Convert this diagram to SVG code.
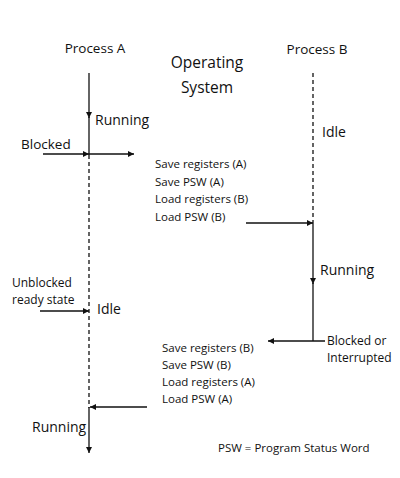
<svg xmlns="http://www.w3.org/2000/svg" width="400" height="478" viewBox="0 0 400 478">
<defs>
<marker id="ah" viewBox="0 0 10 10" refX="10" refY="5" markerWidth="7" markerHeight="6" markerUnits="userSpaceOnUse" orient="auto"><path d="M0,0 L10,5 L0,10 Z" fill="#111"/></marker>
<style>
text{font-family:"Open Sans","Liberation Sans",sans-serif;fill:#111}
.t{font-size:13.5px}
.r{font-size:14px}
.m{font-size:12px}
.s{font-size:11.5px}
.os{font-size:15.5px}
.ln{stroke:#111;stroke-width:1.3;fill:none}
.d{stroke:#111;stroke-width:1.3;fill:none;stroke-dasharray:4 3}
.a{marker-end:url(#ah)}
</style>
</defs>
<rect width="400" height="478" fill="#fff"/>
<g id="connectors">
<line class="ln a" x1="89" y1="73" x2="89" y2="118"/>
<line class="ln" x1="89" y1="117" x2="89" y2="155"/>
<line class="d" x1="89" y1="155" x2="89" y2="408"/>
<line class="ln a" x1="43" y1="154" x2="89" y2="154"/>
<line class="ln a" x1="89" y1="154" x2="134" y2="154"/>
<line class="d" x1="313" y1="73" x2="313" y2="223"/>
<line class="ln a" x1="246" y1="223" x2="313" y2="223"/>
<line class="ln a" x1="313" y1="223" x2="313" y2="284"/>
<line class="ln" x1="313" y1="283" x2="313" y2="341"/>
<line class="ln a" x1="325" y1="341" x2="268" y2="341"/>
<line class="ln a" x1="40" y1="311" x2="89" y2="311"/>
<line class="ln a" x1="147" y1="407" x2="90" y2="407"/>
<line class="ln a" x1="89" y1="407" x2="89" y2="453"/>
</g>
<g id="processA"><text class="t" x="95" y="53" text-anchor="middle">Process A</text></g>
<g id="os"><text class="os" x="207" y="68" text-anchor="middle">Operating</text><text class="os" x="207" y="93" text-anchor="middle">System</text></g>
<g id="processB"><text class="t" x="317" y="54" text-anchor="middle">Process B</text></g>
<g id="runningA"><text class="r" x="95" y="125">Running</text></g>
<g id="blocked"><text class="t" x="21" y="149">Blocked</text></g>
<g id="idleB"><text class="r" x="322" y="137">Idle</text></g>
<g id="switch1">
<text class="s" x="155" y="168">Save registers (A)</text>
<text class="s" x="155" y="185.5">Save PSW (A)</text>
<text class="s" x="155" y="203">Load registers (B)</text>
<text class="s" x="155" y="220.5">Load PSW (B)</text>
</g>
<g id="runningB"><text class="r" x="320" y="275">Running</text></g>
<g id="blockedB"><text class="m" x="327" y="345">Blocked or</text><text class="m" x="327" y="362">Interrupted</text></g>
<g id="unblocked"><text class="m" x="12" y="287">Unblocked</text><text class="m" x="12" y="304">ready state</text></g>
<g id="idleA"><text class="r" x="97" y="314">Idle</text></g>
<g id="switch2">
<text class="s" x="162" y="352">Save registers (B)</text>
<text class="s" x="162" y="369">Save PSW (B)</text>
<text class="s" x="162" y="386">Load registers (A)</text>
<text class="s" x="162" y="403">Load PSW (A)</text>
</g>
<g id="runningA2"><text class="r" x="32" y="432">Running</text></g>
<g id="legend"><text class="s" x="218" y="452">PSW = Program Status Word</text></g>
</svg>
